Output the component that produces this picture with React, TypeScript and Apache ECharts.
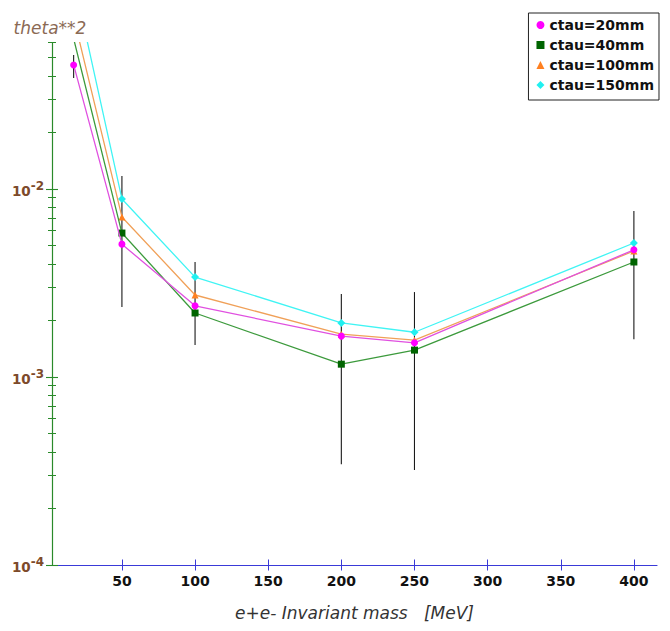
import React, { useEffect, useRef } from "react";
import * as echarts from "echarts";

// ---- data ----
const massValues = [17, 50, 100, 200, 250, 400];
const ctau20 = [0.0457, 0.00509, 0.00239, 0.00165, 0.00152, 0.00475];
const ctau40 = [0.063, 0.00583, 0.00219, 0.00117, 0.00139, 0.00409];
const ctau100 = [0.082, 0.0071, 0.00273, 0.00169, 0.00157, 0.00468];
const ctau150 = [0.13, 0.00885, 0.0034, 0.00194, 0.00173, 0.00516];
const errLow = [0.0389, 0.00236, 0.00148, 0.000344, 0.00032, 0.00159];
const errHigh = [0.0516, 0.01172, 0.00409, 0.00276, 0.00283, 0.00764];
const seriesNames = ["ctau=20mm", "ctau=40mm", "ctau=100mm", "ctau=150mm"];
const xTickValues = [50, 100, 150, 200, 250, 300, 350, 400];
const yDecades = [-4, -3, -2];
const minorMultipliers = [2, 3, 4, 5, 6, 7, 8, 9];

const X_MIN = 2.2;
const X_MAX = 415.8;
const Y_MIN = Math.log10(1e-4);
const Y_MAX = Math.log10(0.06);

const FONT = "DejaVu Sans";

const minorTickValues: number[] = [];
yDecades.forEach((d) =>
  minorMultipliers.forEach((k) => {
    const v = d + Math.log10(k);
    if (v <= Y_MAX + 1e-6) minorTickValues.push(v);
  })
);

const toLog = (arr: number[]) => massValues.map((m, i) => [m, Math.log10(arr[i])]);

export default function App() {
  const ref = useRef<HTMLDivElement>(null);
  useEffect(() => {
    document.body.style.margin = "0";
    if (!ref.current) return;
    const chart = echarts.init(ref.current, null, { renderer: "svg" });

    const yAxisBase = (extra: any) => ({
      type: "value",
      position: "left",
      min: Y_MIN,
      max: Y_MAX,
      offset: 0,
      splitLine: { show: false },
      axisLine: { show: false, onZero: false },
      axisLabel: { show: false },
      ...extra,
    });

    const tickColorY = "#2a8a2a";
    const tickColorX = "#3a3ad8";

    const lineSeries = (
      name: string,
      values: number[],
      lineColor: string,
      markColor: string,
      symbol: string,
      size: number,
      z: number
    ) => ({
      type: "line",
      name,
      data: toLog(values),
      xAxisIndex: 0,
      yAxisIndex: 0,
      symbol,
      symbolSize: size,
      showAllSymbol: true,
      clip: true,
      z,
      lineStyle: { color: lineColor, width: 1.3 },
      itemStyle: { color: markColor },
      emphasis: { disabled: true },
    });

    chart.setOption({
      animation: false,
      backgroundColor: "#ffffff",
      textStyle: { fontFamily: FONT },
      grid: {
        left: 52,
        right: 13,
        top: 42.7,
        bottom: 66,
        containLabel: false,
        outerBoundsMode: "none",
      },
      legend: {
        orient: "vertical",
        right: 11,
        top: 13,
        padding: [5, 5, 8, 8],
        itemGap: 6,
        itemWidth: 8,
        itemHeight: 8,
        backgroundColor: "#ffffff",
        borderColor: "#222222",
        borderWidth: 1,
        borderRadius: 0,
        textStyle: { fontFamily: FONT, fontSize: 14, fontWeight: "bold", color: "#111111" },
        data: [
          { name: seriesNames[0], icon: "circle" },
          { name: seriesNames[1], icon: "rect" },
          { name: seriesNames[2], icon: "triangle" },
          { name: seriesNames[3], icon: "diamond" },
        ],
        selectedMode: false,
      },
      xAxis: [
        {
          type: "value",
          min: X_MIN,
          max: X_MAX,
          position: "bottom",
          name: "e+e- Invariant mass   [MeV]",
          nameLocation: "middle",
          nameGap: 39,
          nameTextStyle: { fontFamily: FONT, fontStyle: "italic", fontSize: 17, color: "#333333" },
          splitLine: { show: false },
          axisLine: { show: true, onZero: false, lineStyle: { color: tickColorX, width: 1.2 } },
          axisTick: {
            show: true,
            length: 5.5,
            inside: false,
            customValues: xTickValues,
            lineStyle: { color: tickColorX, width: 1 },
          },
          axisLabel: {
            show: true,
            customValues: xTickValues,
            margin: 9,
            fontFamily: FONT,
            fontSize: 14,
            fontWeight: "bold",
            color: "#111111",
          },
        },
        {
          type: "value",
          min: X_MIN,
          max: X_MAX,
          position: "bottom",
          splitLine: { show: false },
          axisLine: { show: false, onZero: false },
          axisLabel: { show: false },
          axisTick: {
            show: true,
            length: 5.5,
            inside: true,
            customValues: xTickValues,
            lineStyle: { color: tickColorX, width: 1 },
          },
        },
      ],
      yAxis: [
        yAxisBase({
          name: "theta**2",
          nameLocation: "end",
          nameGap: 15,
          nameTextStyle: {
            fontFamily: FONT,
            fontStyle: "italic",
            fontSize: 17,
            color: "#8b6a55",
            align: "center",
            verticalAlign: "middle",
            padding: [0, 4, 0, 0],
          },
          axisLine: { show: true, onZero: false, lineStyle: { color: tickColorY, width: 1.2 } },
          axisTick: {
            show: true,
            length: 6,
            inside: false,
            customValues: yDecades,
            lineStyle: { color: tickColorY, width: 1.1 },
          },
          axisLabel: {
            show: true,
            customValues: yDecades,
            margin: 8,
            formatter: (v: number) => `{b|10}{s|${Math.round(v)}}`,
            rich: {
              b: {
                fontFamily: FONT,
                fontSize: 13.5,
                fontWeight: "bold",
                color: "#7d4a2a",
                verticalAlign: "bottom",
              },
              s: {
                fontFamily: FONT,
                fontSize: 12,
                fontWeight: "bold",
                color: "#7d4a2a",
                verticalAlign: "bottom",
                padding: [0, 0, 6, 0],
              },
            },
          },
        }),
        yAxisBase({
          axisTick: {
            show: true,
            length: 6,
            inside: true,
            customValues: yDecades,
            lineStyle: { color: tickColorY, width: 1.1 },
          },
        }),
        yAxisBase({
          axisTick: {
            show: true,
            length: 4,
            inside: false,
            customValues: minorTickValues,
            lineStyle: { color: tickColorY, width: 1 },
          },
        }),
        yAxisBase({
          axisTick: {
            show: true,
            length: 4,
            inside: true,
            customValues: minorTickValues,
            lineStyle: { color: tickColorY, width: 1 },
          },
        }),
      ],
      series: [
        {
          type: "custom",
          name: "errors",
          xAxisIndex: 0,
          yAxisIndex: 0,
          z: 1,
          silent: true,
          encode: { x: 0, y: [1, 2] },
          data: massValues.map((m, i) => [m, Math.log10(errLow[i]), Math.log10(errHigh[i])]),
          renderItem: (params: any, api: any) => {
            const lo = api.coord([api.value(0), api.value(1)]);
            const hi = api.coord([api.value(0), api.value(2)]);
            return {
              type: "line",
              shape: { x1: lo[0], y1: lo[1], x2: hi[0], y2: hi[1] },
              style: { stroke: "#1a1a1a", lineWidth: 1.1 },
            };
          },
        },
        lineSeries(seriesNames[0], ctau20, "#e050e0", "#ff00ff", "circle", 7, 6),
        lineSeries(seriesNames[1], ctau40, "#3c9a3c", "#006400", "rect", 7, 5),
        lineSeries(seriesNames[2], ctau100, "#f0a058", "#ff8020", "triangle", 7, 4),
        lineSeries(seriesNames[3], ctau150, "#40f4f4", "#20f0f0", "diamond", 8, 3),
      ],
    } as any);

    return () => chart.dispose();
  }, []);

  return <div ref={ref} style={{ width: 670, height: 631 }} />;
}
